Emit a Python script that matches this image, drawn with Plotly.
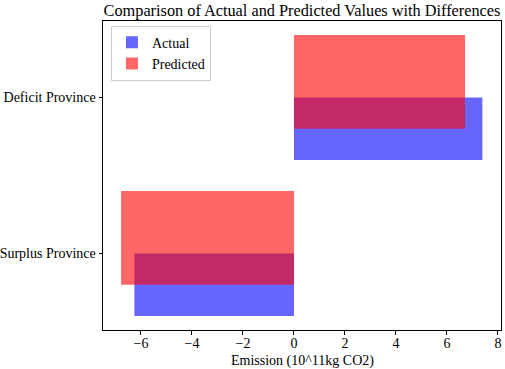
import plotly.graph_objects as go

categories = ["Surplus Province", "Deficit Province"]
positions = [0, 1]
actual = [-6.26, 7.39]
predicted = [-6.78, 6.71]
x_ticks = [-6, -4, -2, 0, 2, 4, 6, 8]

FONT = "Liberation Serif, Times New Roman, serif"

fig = go.Figure()
fig.add_trace(go.Bar(
    y=positions, x=actual, orientation="h", name="Actual",
    width=0.4, offset=-0.4,
    marker=dict(color="rgba(0,0,255,0.6)", line=dict(width=0)),
))
fig.add_trace(go.Bar(
    y=positions, x=predicted, orientation="h", name="Predicted",
    width=0.6, offset=-0.2,
    marker=dict(color="rgba(255,0,0,0.6)", line=dict(width=0)),
))

fig.update_layout(
    width=505, height=369,
    margin=dict(l=103, r=4, t=21, b=39),
    barmode="overlay",
    plot_bgcolor="white", paper_bgcolor="white",
    font=dict(family=FONT, size=14, color="black"),
    title=dict(text="Comparison of Actual and Predicted Values with Differences",
               x=0.5, xref="paper", xanchor="center", y=0.973, yanchor="middle",
               font=dict(family=FONT, size=16.3, color="black")),
    legend=dict(x=0.02, y=0.985, xanchor="left", yanchor="top",
                bordercolor="#cccccc", borderwidth=1, bgcolor="rgba(255,255,255,0.8)",
                font=dict(family=FONT, size=14), tracegroupgap=0),
    showlegend=True,
    annotations=[dict(text="Emission (10^11kg CO2)", xref="paper", yref="paper",
                      x=0.5, y=-0.1, xanchor="center", yanchor="middle",
                      showarrow=False, font=dict(family=FONT, size=14))],
)
fig.update_xaxes(
    range=[-7.49, 8.12], tickvals=x_ticks,
    ticktext=[("\u2212" + str(abs(v))) if v < 0 else str(v) for v in x_ticks],
    showgrid=False, zeroline=False, automargin=False,
    showline=True, linecolor="black", linewidth=1, mirror=True,
    ticks="outside", ticklen=3.5, tickcolor="black",
    ticklabelstandoff=-3,
    tickfont=dict(family=FONT, size=14),
)
fig.update_yaxes(
    range=[-0.49, 1.49], tickvals=positions, ticktext=categories,
    showgrid=False, zeroline=False, automargin=False,
    showline=True, linecolor="black", linewidth=1, mirror=True,
    ticks="outside", ticklen=3.5, tickcolor="black",
    tickfont=dict(family=FONT, size=14),
)

fig.write_html("out.html", config={"displayModeBar": False},
               post_script="document.body.style.margin='0';")
